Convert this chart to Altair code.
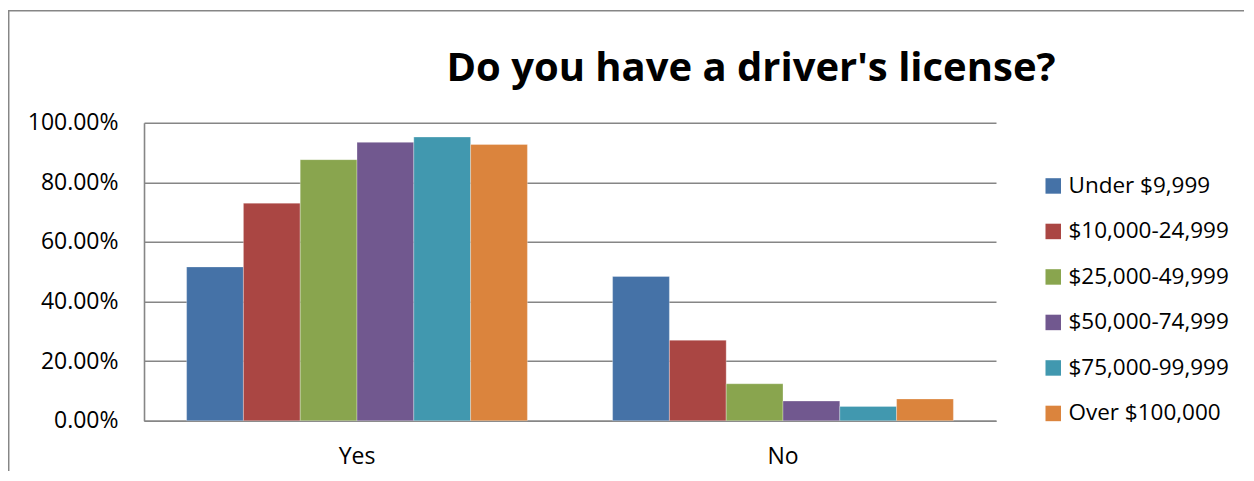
import altair as alt
import pandas as pd

answers = ["Yes", "No"]
incomes = ["Under $9,999", "$10,000-24,999", "$25,000-49,999",
           "$50,000-74,999", "$75,000-99,999", "Over $100,000"]
yes_vals = [0.516, 0.730, 0.876, 0.934, 0.952, 0.927]
no_vals = [0.484, 0.270, 0.124, 0.066, 0.048, 0.073]
colors = ["#4572A7", "#AA4643", "#89A54E", "#71588F", "#4198AF", "#DB843D"]

rows = []
for inc, v in zip(incomes, yes_vals):
    rows.append({"answer": "Yes", "income": inc, "value": v})
for inc, v in zip(incomes, no_vals):
    rows.append({"answer": "No", "income": inc, "value": v})
df = pd.DataFrame(rows)

FONT = "Open Sans"
GRID = "#868686"

bars = alt.Chart(df).mark_bar(stroke="white", strokeWidth=0.5, strokeOpacity=0.6).encode(
    x=alt.X("answer:N", sort=answers,
            scale=alt.Scale(paddingInner=0.2, paddingOuter=0.1),
            axis=alt.Axis(title=None, labelAngle=0, ticks=False, tickSize=0,
                          labelPadding=25, labelFontSize=23, labelFont=FONT,
                          labelColor="#000000", domainColor=GRID, domainWidth=1.6)),
    xOffset=alt.XOffset("income:N", sort=incomes,
                        scale=alt.Scale(paddingInner=0, paddingOuter=0)),
    y=alt.Y("value:Q", scale=alt.Scale(domain=[0, 1]),
            axis=alt.Axis(title=None, format=".2%", values=[0, 0.2, 0.4, 0.6, 0.8, 1.0],
                          ticks=False, tickSize=0, labelPadding=26, labelFontSize=23,
                          labelFont=FONT, labelColor="#000000", gridColor=GRID,
                          gridWidth=1.6, domainColor=GRID, domainWidth=1.6)),
    color=alt.Color("income:N", sort=incomes,
                    scale=alt.Scale(domain=incomes, range=colors),
                    legend=alt.Legend(title=None, orient="none", legendX=898, legendY=52,
                                      symbolType="square", symbolSize=240,
                                      symbolStrokeWidth=0, labelFontSize=22.5,
                                      labelFont=FONT, labelColor="#000000",
                                      labelLimit=400, labelOffset=4, rowPadding=22.5)),
)

frame_df = pd.DataFrame({"k": [0]})
left_border = alt.Chart(frame_df).mark_rule(color=GRID, strokeWidth=1.5).encode(
    x=alt.value(-135.3), y=alt.value(-112), y2=alt.value(400))
top_border = alt.Chart(frame_df).mark_rule(color=GRID, strokeWidth=1.5).encode(
    x=alt.value(-136), x2=alt.value(1200), y=alt.value(-112))

chart = alt.layer(left_border, top_border, bars).properties(
    width=852, height=298,
    padding={"left": 136, "top": 114.7, "right": 248, "bottom": 50},
    autosize=alt.AutoSizeParams(type="none"),
    title=alt.TitleParams("Do you have a driver's license?", font=FONT, fontSize=40,
                          fontWeight="bold", color="#000000", anchor="middle",
                          dx=181, offset=-79),
).configure_view(stroke=None).configure_axis(grid=True).configure_axisX(grid=False)

chart.save("out.html", embed_options={"renderer": "svg", "actions": False})
